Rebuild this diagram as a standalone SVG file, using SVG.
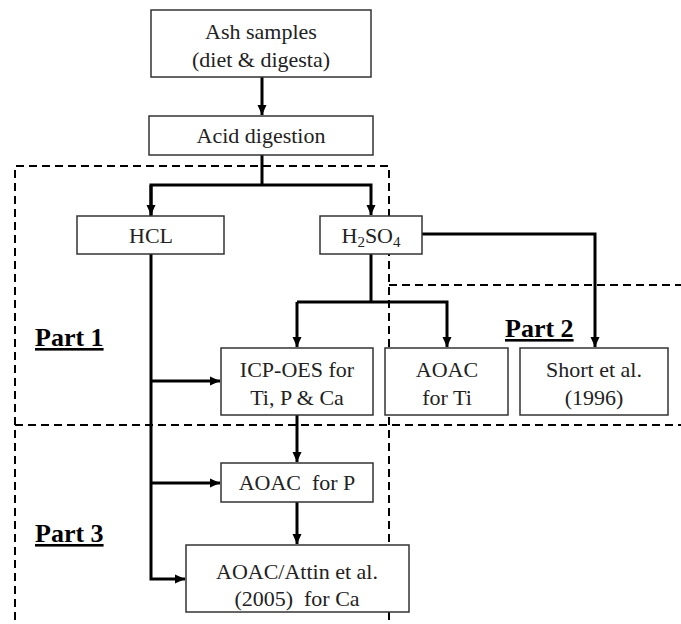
<svg xmlns="http://www.w3.org/2000/svg" width="681" height="624" viewBox="0 0 681 624">
<style>
.box{fill:#fff;stroke:#333;stroke-width:1.5}
.t{font-family:'Liberation Serif','Times New Roman',Times,'DejaVu Serif',serif;font-size:22px;fill:#222;text-anchor:middle}
.part{font-family:'Liberation Serif','Times New Roman',Times,'DejaVu Serif',serif;font-size:26px;font-weight:bold;fill:#000;text-decoration:underline}
.c{fill:none;stroke:#000;stroke-width:3}
.d{fill:none;stroke:#000;stroke-width:2;stroke-dasharray:8 5}
</style>
<defs>
<marker id="ah" markerUnits="userSpaceOnUse" markerWidth="10" markerHeight="10" refX="10" refY="5" orient="auto">
<path d="M0,0.5 L10,5 L0,9.5 z" fill="#000"/>
</marker>
</defs>
<g id="regions">
<path class="d" d="M15,620 V166 H389 V622"/>
<path class="d" d="M389,285 H681"/>
<path class="d" d="M15,425 H681"/>
</g>
<g id="connectors">
<path class="c" d="M262,77 V115" marker-end="url(#ah)"/>
<path class="c" d="M262,155 V185"/>
<path class="c" d="M151,216 V185 H371 V215" marker-end="url(#ah)"/>
<path class="c" d="M151,185 V215" marker-end="url(#ah)"/>
<path class="c" d="M371,254 V302"/>
<path class="c" d="M297,302 H447 V347" marker-end="url(#ah)"/>
<path class="c" d="M297,302 V347" marker-end="url(#ah)"/>
<path class="c" d="M422,234 H595 V347" marker-end="url(#ah)"/>
<path class="c" d="M151,254 V579 H185" marker-end="url(#ah)"/>
<path class="c" d="M151,381 H220" marker-end="url(#ah)"/>
<path class="c" d="M151,483 H220" marker-end="url(#ah)"/>
<path class="c" d="M297,415 V462" marker-end="url(#ah)"/>
<path class="c" d="M297,502 V544" marker-end="url(#ah)"/>
</g>
<g id="ash"><rect class="box" x="151" y="10" width="220" height="67"/><text class="t" x="261" y="39">Ash samples</text><text class="t" x="261" y="67">(diet &amp; digesta)</text></g>
<g id="acid"><rect class="box" x="149" y="116" width="224" height="39"/><text class="t" x="261" y="143">Acid digestion</text></g>
<g id="hcl"><rect class="box" x="77" y="216" width="147" height="38"/><text class="t" x="151" y="243">HCL</text></g>
<g id="h2so4"><rect class="box" x="320" y="216" width="102" height="38"/><text class="t" x="371" y="243">H<tspan font-size="15" dy="4">2</tspan><tspan dy="-4">SO</tspan><tspan font-size="15" dy="4">4</tspan></text></g>
<g id="icp"><rect class="box" x="221" y="348" width="152" height="67"/><text class="t" x="297" y="377">ICP-OES for</text><text class="t" x="297" y="405">Ti, P &amp; Ca</text></g>
<g id="aoacti"><rect class="box" x="385" y="348" width="123" height="67"/><text class="t" x="447" y="377">AOAC</text><text class="t" x="447" y="405">for Ti</text></g>
<g id="short"><rect class="box" x="520" y="348" width="148" height="67"/><text class="t" x="594" y="377">Short et al.</text><text class="t" x="594" y="405">(1996)</text></g>
<g id="aoacp"><rect class="box" x="221" y="463" width="152" height="39"/><text class="t" x="297" y="490" xml:space="preserve">AOAC  for P</text></g>
<g id="attin"><rect class="box" x="186" y="545" width="223" height="67"/><text class="t" x="297" y="579">AOAC/Attin et al.</text><text class="t" x="297" y="606" xml:space="preserve">(2005)  for Ca</text></g>
<g id="part1"><text class="part" x="35" y="346">Part 1</text></g>
<g id="part2"><text class="part" x="505" y="337">Part 2</text></g>
<g id="part3"><text class="part" x="35" y="542">Part 3</text></g>
</svg>
